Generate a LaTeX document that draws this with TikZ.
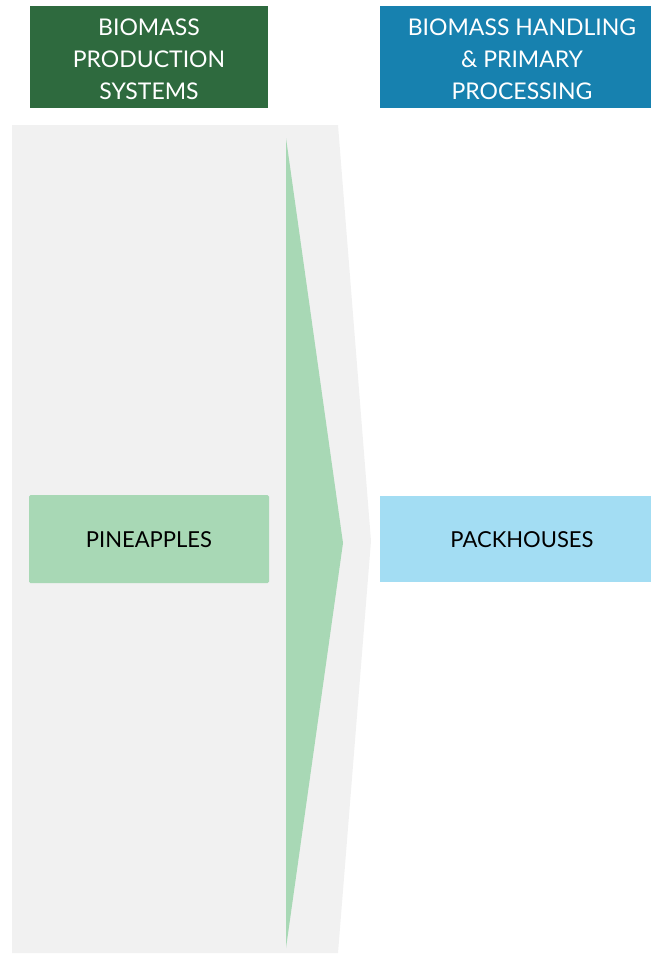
\documentclass[tikz,border=0pt]{standalone}
\usepackage{fontspec}
\setmainfont{Lato}
\definecolor{hdrgreen}{HTML}{2E6A3E}
\definecolor{hdrblue}{HTML}{1781AF}
\definecolor{lightgreen}{HTML}{A8D8B5}
\definecolor{lightblue}{HTML}{A3DDF3}
\definecolor{bggray}{HTML}{F1F1F1}
\begin{document}
\begin{tikzpicture}[x=1pt,y=-1pt,
  hdr/.style={inner sep=0pt, text=white, align=center, font=\fontsize{23}{32}\selectfont},
  boxlbl/.style={inner sep=0pt, text=black, font=\fontsize{22}{26}\selectfont}]
\useasboundingbox (0,0) rectangle (651,954);
% headers
\fill[hdrgreen] (30,6) rectangle (268,108);
\node[hdr] (h1) at (149,59) {BIOMASS\\PRODUCTION\\SYSTEMS};
\fill[hdrblue] (380,6) rectangle (651,108);
\node[hdr] (h2) at (522,59) {BIOMASS HANDLING\\\& PRIMARY\\PROCESSING};
% gray chevron
\fill[bggray] (12,125) -- (338,125) -- (371,541) -- (338,953) -- (12,953) -- cycle;
% green arrow
\fill[lightgreen] (286,138) -- (343,543) -- (286,948) -- cycle;
% boxes
\fill[lightgreen, rounded corners=1.5pt] (29,495) rectangle (269,583);
\node[boxlbl] (p1) at (149,540) {PINEAPPLES};
\fill[lightblue] (380,496) rectangle (651,582);
\node[boxlbl] (p2) at (522,540) {PACKHOUSES};
\end{tikzpicture}
\end{document}
